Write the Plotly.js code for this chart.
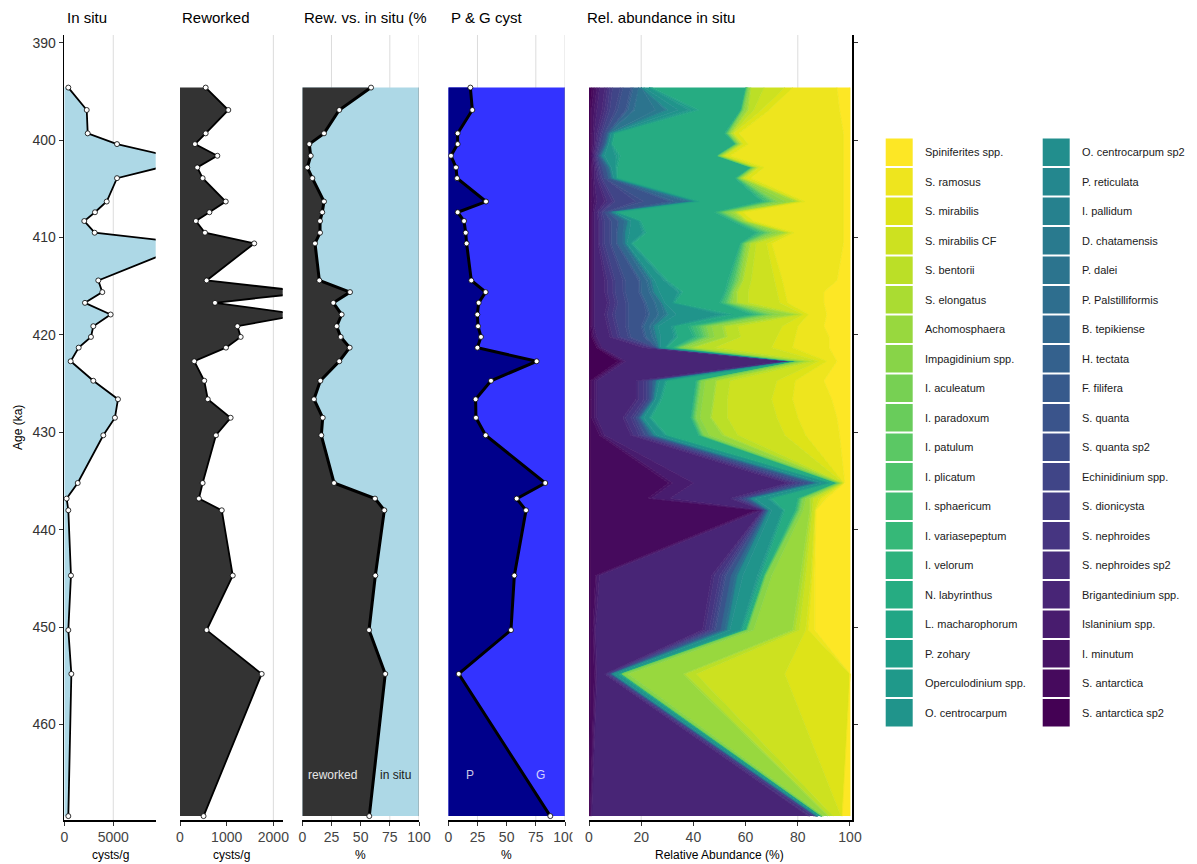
<!DOCTYPE html>
<html>
<head>
<meta charset="utf-8">
<script src="https://cdn.plot.ly/plotly-3.0.1.min.js"></script>
<style>
  html, body { margin: 0; padding: 0; background: #fff; }
  #chart { width: 1197px; height: 864px; }
</style>
</head>
<body>
<div id="chart"></div>
<script>
// ---- Sample ages (ka) ----
const age = [394.6, 396.9, 399.3, 400.4, 401.6, 402.8, 403.9, 406.3, 407.4, 408.3, 409.5, 410.6, 414.4, 415.6, 416.7, 417.9, 419.1, 420.2, 421.3, 422.7, 424.7, 426.6, 428.5, 430.3, 435.2, 436.8, 438.0, 444.7, 450.3, 454.8, 469.4];

// ---- Cyst concentrations (cysts/g) ----
const inSitu = [410, 2290, 2390, 5380, 10500, 9800, 5380, 4330, 3130, 2040, 3100, 12900, 3470, 3880, 2110, 4730, 2960, 2720, 1470, 650, 2960, 5480, 5170, 3980, 1370, 240, 410, 680, 410, 720, 410];
const reworked = [550, 1035, 550, 320, 800, 370, 485, 980, 630, 340, 535, 1590, 570, 2800, 750, 2600, 1230, 1300, 985, 305, 520, 595, 1085, 770, 485, 405, 895, 1130, 570, 1750, 505];

// ---- Reworked share of all cysts (%) ----
const reworkedPct = [58.9, 31.7, 18.6, 6.0, 7.2, 4.3, 8.6, 18.6, 17.1, 15.2, 15.2, 10.9, 14.6, 40.9, 26.6, 33.7, 29.5, 32.9, 40.6, 31.7, 15.5, 10.0, 17.5, 16.3, 27.2, 62.3, 70.3, 62.6, 57.2, 71.1, 57.4];

// ---- Protoperidinioid (P) share of P + G cysts (%) ----
const pPct = [18.9, 20.6, 8.0, 8.0, 2.3, 6.6, 7.5, 32.3, 8.0, 13.5, 14.9, 15.7, 19.7, 32.0, 26.0, 24.9, 25.5, 28.0, 24.9, 75.7, 36.6, 23.4, 23.7, 32.0, 83.1, 58.6, 66.6, 56.6, 53.7, 8.9, 87.4];

// ---- In situ taxa, relative abundance (%) ----
const spiniferitesSpp   = [5, 4, 2.5, 2.5, 2.5, 2.5, 2.5, 2.5, 2.5, 2.5, 2.5, 2.5, 5, 10, 10, 9, 10, 8, 8, 5, 10, 7, 5, 4, 2, 9, 13, 13.5, 13.5, 0, 3];
const sRamosus          = [17, 27, 40, 36.5, 43.5, 30.5, 35.5, 15, 38.5, 34.5, 19, 27.5, 21, 15, 14, 7, 10, 13, 14, 4, 11, 15, 15, 13, 0.3, 2, 0.3, 1, 2.5, 0, 0];
const sMirabilis        = [3, 3, 2, 2, 2, 2, 2, 1.5, 2, 2, 1.5, 2, 3, 3, 3, 2, 6, 7, 8, 3, 7, 8, 8, 8, 0.2, 1, 0.2, 0.5, 1, 25, 0.5];
const sMirabilisCF      = [8, 3, 0.5, 0.5, 0.5, 0.5, 1, 0.5, 0.5, 0.5, 0.5, 4, 9, 11, 12, 1, 17, 14, 22, 2, 18, 17, 19, 18, 0.3, 2, 1, 2, 2.5, 34, 3];
const sBentorii         = [5, 2, 0.5, 0.5, 0.5, 0.5, 0.5, 0.5, 0.5, 0.5, 0.5, 2, 3, 4, 4, 1, 5, 5, 8, 2, 5, 5, 6, 5, 0.2, 1, 0.5, 1, 1.5, 4, 1.5];
const sElongatus        = [0.2, 0.5, 0.2, 0.2, 0.2, 0.2, 0.2, 1.5, 1, 0.5, 1.5, 0.5, 0.5, 0.5, 0.5, 2, 1, 1, 1, 0.5, 0.5, 0.5, 0.5, 1, 0.2, 0.5, 0.5, 1, 1, 1, 0.5];
const achomosphaera     = [0.5, 1, 0.5, 0.5, 0.5, 0.5, 0.5, 3.5, 1.5, 1, 2.5, 1, 1, 1, 1.5, 5, 4, 4, 2.5, 1.5, 4, 4, 4, 5, 0.5, 1.5, 2.5, 11, 15, 21, 1.5];
const impagidiniumSpp   = [0.3, 0.5, 0.3, 0.3, 0.3, 0.3, 0.3, 3, 1.5, 0.5, 2, 0.5, 0.5, 0.5, 1, 3, 2, 2, 1.5, 1, 1.5, 1.5, 1.5, 2, 0.3, 1, 1, 2, 2, 2, 0.5];
const iAculeatum        = [0.3, 0.3, 0.3, 0.3, 0.3, 0.3, 0.3, 1, 0.6, 0.4, 1, 0.4, 0.6, 0.4, 0.6, 1.3, 1.1, 1, 0.4, 0.3, 0.4, 0.4, 0.4, 0.4, 0.3, 0.4, 0.4, 0.3, 0.3, 0.3, 0.2];
const iParadoxum        = [0.2, 0.2, 0.2, 0.2, 0.2, 0.2, 0.2, 0.8, 0.5, 0.4, 0.8, 0.4, 0.5, 0.4, 0.5, 1, 0.9, 0.8, 0.4, 0, 0.4, 0.4, 0.4, 0.4, 0.2, 0.4, 0.4, 0.2, 0.2, 0, 0];
const iPatulum          = [0, 0, 0, 0, 0, 0, 0, 0.6, 0.4, 0.3, 0.6, 0, 0.4, 0.3, 0.4, 0.8, 0.7, 0.6, 0.3, 0, 0, 0, 0, 0, 0, 0, 0, 0, 0, 0, 0];
const iPlicatum         = [0, 0, 0.3, 0, 0, 0, 0.3, 1, 0.7, 0.5, 1, 0.4, 0.7, 0.5, 0.7, 1.4, 1.2, 1, 0.5, 0, 0.4, 0.4, 0.4, 0.4, 0, 0.4, 0.4, 0, 0, 0, 0];
const iSphaericum       = [0.3, 0.3, 0.4, 0.3, 0.3, 0.3, 0.4, 1.2, 0.8, 0.6, 1.2, 0.5, 0.8, 0.6, 0.8, 1.6, 1.4, 1.2, 0.6, 0.2, 0.5, 0.5, 0.5, 0.5, 0.3, 0.5, 0.5, 0.3, 0.3, 0.2, 0.1];
const iVariasepeptum    = [0, 0, 0, 0, 0, 0, 0, 0.6, 0.4, 0.3, 0.6, 0, 0.4, 0.3, 0.4, 0.8, 0.7, 0.6, 0.3, 0, 0, 0, 0, 0, 0, 0, 0, 0, 0, 0, 0];
const iVelorum          = [0.2, 0.2, 0.3, 0.2, 0.2, 0.2, 0.3, 0.8, 0.6, 0.5, 0.8, 0.3, 0.6, 0.5, 0.6, 1.1, 1, 0.8, 0.5, 0, 0.3, 0.3, 0.3, 0.3, 0.2, 0.3, 0.3, 0.2, 0.2, 0, 0];
const nLabyrinthus      = [36, 16, 42, 47, 37, 51, 45, 24, 37, 35, 42, 41, 23, 16, 17, 7, 5, 6, 2, 0.5, 11, 12, 15, 12, 2, 10, 4, 1, 1, 0.5, 0.2];
const lMacharophorum    = [0.5, 1, 0.5, 0.5, 0.5, 0.5, 0.5, 0.5, 0.5, 0.5, 0.5, 0.5, 0.5, 0.5, 0.5, 2, 0.5, 0.5, 0.5, 0.2, 0.5, 0.5, 0.5, 0.5, 0.5, 0.5, 0.5, 0.5, 0.5, 0.5, 0.2];
const pZohary           = [0.5, 2, 0, 0, 1, 0.5, 0, 0, 0, 0.5, 0.5, 0.5, 0.5, 1, 0.5, 2, 0.5, 0.5, 0.5, 0.2, 0.5, 0.5, 0.5, 0.5, 0.5, 0.5, 0.5, 0.5, 0.5, 0.5, 0.2];
const operculodiniumSpp = [0, 1, 0, 0, 0.5, 0, 0, 0, 0, 0, 0.5, 0, 0.5, 0.5, 0, 1, 0.5, 0.5, 0, 0, 0, 0, 0, 0, 0, 0.5, 0, 0.5, 0, 0, 0];
const oCentrocarpum     = [2, 4, 1, 1, 4, 1.5, 1, 1, 1, 3, 5, 1.5, 3.5, 7, 3, 17, 5, 5, 1.5, 0.4, 2, 1.5, 2, 3, 3, 5, 4, 5.5, 4, 1.5, 0.8];
const oCentrocarpumSp2  = [1, 4, 0.5, 0.5, 1, 0.5, 0.5, 0.5, 0.5, 1, 1.5, 0.5, 1, 2, 1, 3, 1.5, 1.5, 0.5, 0.2, 1, 0.5, 1, 1, 1, 1.5, 1, 2, 1, 0.5, 0.3];
const pReticulata       = [0, 0.3, 0, 0, 0, 0, 0, 0.3, 0, 0, 0, 0, 0.3, 0, 0, 0.3, 0, 0, 0, 0, 0, 0, 0, 0, 0, 0, 0, 0, 0, 0, 0];
const iPallidum         = [0, 0.5, 0, 0, 0, 0, 0, 0.3, 0, 0, 0, 0, 0, 0, 0, 0.3, 0, 0, 0, 0, 0, 0, 0, 0, 0, 0, 0, 0, 0, 0, 0];
const dChatamensis      = [0, 4, 0, 0, 0, 0, 0, 0.5, 0, 0, 0, 0, 0.5, 0.5, 0.5, 1, 0.5, 0.5, 0, 0, 0, 0, 0, 0, 0, 0, 0, 0, 0, 0, 0];
const pDalei            = [1, 8, 0.5, 0.5, 0.5, 0.5, 0.5, 2, 0.5, 1.5, 1, 1, 1, 1, 2, 2, 1, 1, 0.5, 0.2, 0.5, 0.5, 0.5, 1, 1, 0.5, 0.5, 1, 1, 0, 0.2];
const pPalstilliformis  = [0, 0.5, 0, 0, 0, 0, 0, 0.5, 0, 0, 0, 0, 0.5, 0.5, 0.5, 0.5, 0.5, 0.5, 0, 0, 0, 0, 0, 0, 0, 0, 0, 0, 0, 0, 0];
const bTepikiense       = [2, 2, 0.5, 0.5, 0.5, 1, 1, 4, 1, 2, 2, 2, 2, 3, 3, 3, 2, 2, 0.5, 0.2, 1, 0.5, 0.5, 1, 1.5, 1, 0.5, 1.5, 1.5, 0.5, 0.2];
const hTectata          = [0.5, 0.5, 0, 0, 0, 0, 0, 1, 0, 0, 0, 0, 0.5, 0.5, 0.5, 0.5, 0.5, 0.5, 0, 0, 0, 0, 0, 0, 0, 0, 0, 0, 0, 0, 0];
const fFilifera         = [0.5, 0.5, 0, 0, 0, 0, 0, 1, 0, 0.5, 0.5, 0.5, 0.5, 0.5, 0.5, 1, 0.5, 0.5, 0, 0, 0, 0, 0, 0, 0.5, 0, 0, 0, 0, 0, 0];
const sQuanta           = [3, 3, 1, 1, 0.5, 1.5, 1.5, 10, 1.5, 2.5, 2, 2, 5, 5, 6, 7, 5, 5, 0.5, 0.3, 1.5, 1, 1, 1.5, 2.5, 1.5, 0.5, 2, 2, 0.5, 0.3];
const sQuantaSp2        = [1, 1, 0, 0, 0, 0, 0, 3, 0, 0.5, 0.5, 0.5, 1, 1, 1, 1, 1, 1, 0, 0, 0, 0, 0, 0.5, 0.5, 0, 0, 0.5, 0.5, 0, 0];
const echinidiniumSpp   = [3, 2, 1, 1, 0.5, 1, 1, 8, 1, 2, 2, 2, 3, 3, 3, 4, 3, 3, 0.5, 0.3, 1, 1, 1, 1, 2, 1, 0.5, 1, 1, 0.5, 0.3];
const sDionicysta       = [1, 1, 0.5, 0.5, 0.3, 0.5, 0.5, 1, 0.5, 1, 1, 1, 1, 1, 1, 1, 1, 1, 1, 1, 1, 1, 1, 1, 1, 1, 0.2, 1, 1, 0.5, 0.5];
const sNephroides       = [1, 1, 1, 0.5, 0.4, 0.5, 1, 2, 1, 1, 1, 1, 2, 2, 2, 2, 2, 2, 2, 2, 2, 2, 2, 2, 2, 2, 0.2, 2, 1.5, 0.5, 1.5];
const sNephroidesSp2    = [1, 1, 0.5, 0.5, 0.3, 0.5, 0.5, 1, 0.5, 0.5, 0.5, 0.5, 1, 1, 1, 1, 1, 1, 1, 1, 1, 1, 1, 1, 1, 1, 0.2, 1, 1, 0.5, 0.5];
const brigantediniumSpp = [2, 2, 1, 0.5, 0.5, 0.5, 1, 3, 1, 1.5, 1.5, 1.5, 4, 4, 5, 4, 5, 5, 16, 60, 15, 15, 10, 10, 36, 23, 0.4, 43, 41, 3, 83];
const islaniniumSpp     = [1, 1, 0.5, 0.5, 0.4, 0.5, 0.5, 1, 0.5, 0.5, 0.5, 0.5, 0.5, 0.5, 0.5, 0.5, 0.5, 1, 1, 1, 1, 1, 1, 1, 8, 7, 1, 1, 0.5, 0.5, 0.3];
const iMinutum          = [1, 1, 0.5, 0.5, 0.4, 0.5, 0.5, 1, 0.5, 0.5, 0.5, 0.5, 0.5, 0.5, 0.5, 0.5, 0.5, 0.5, 0.5, 0.5, 1, 1, 1, 1, 1.5, 1.5, 1, 0.5, 0.5, 0.5, 0.2];
const sAntarctica       = [1, 0.5, 0.5, 0.5, 0.4, 0.5, 0.5, 0.5, 0.5, 0.5, 0.5, 0.5, 0.5, 0.5, 0.5, 0.5, 0.5, 0.5, 0.5, 1.5, 0.5, 0.5, 0.5, 3.5, 30, 22, 63.5, 2, 1, 1.5, 0.3];
const sAntarcticaSp2    = [1, 0.5, 0.5, 0.5, 0.3, 0.5, 0.5, 0.5, 0.5, 0.5, 0.5, 0.5, 0.5, 0.5, 0.5, 0.5, 0.5, 1, 3, 11, 0.5, 0.5, 0.5, 0.5, 0.5, 0.5, 0.5, 0.5, 0.5, 0.5, 0.2];

// Legend order (first entry sits at the right end of the stack)
const taxa = [
  ['Spiniferites spp.', spiniferitesSpp], ['S. ramosus', sRamosus], ['S. mirabilis', sMirabilis],
  ['S. mirabilis CF', sMirabilisCF], ['S. bentorii', sBentorii], ['S. elongatus', sElongatus],
  ['Achomosphaera', achomosphaera], ['Impagidinium spp.', impagidiniumSpp], ['I. aculeatum', iAculeatum],
  ['I. paradoxum', iParadoxum], ['I. patulum', iPatulum], ['I. plicatum', iPlicatum],
  ['I. sphaericum', iSphaericum], ['I. variasepeptum', iVariasepeptum], ['I. velorum', iVelorum],
  ['N. labyrinthus', nLabyrinthus], ['L. macharophorum', lMacharophorum], ['P. zohary', pZohary],
  ['Operculodinium spp.', operculodiniumSpp], ['O. centrocarpum', oCentrocarpum],
  ['O. centrocarpum sp2', oCentrocarpumSp2], ['P. reticulata', pReticulata], ['I. pallidum', iPallidum],
  ['D. chatamensis', dChatamensis], ['P. dalei', pDalei], ['P. Palstilliformis', pPalstilliformis],
  ['B. tepikiense', bTepikiense], ['H. tectata', hTectata], ['F. filifera', fFilifera],
  ['S. quanta', sQuanta], ['S. quanta sp2', sQuantaSp2], ['Echinidinium spp.', echinidiniumSpp],
  ['S. dionicysta', sDionicysta], ['S. nephroides', sNephroides], ['S. nephroides sp2', sNephroidesSp2],
  ['Brigantedinium spp.', brigantediniumSpp], ['Islaninium spp.', islaniniumSpp], ['I. minutum', iMinutum],
  ['S. antarctica', sAntarctica], ['S. antarctica sp2', sAntarcticaSp2]
];

// ---- viridis palette ----
const VIRIDIS = ['#440154','#471365','#482475','#463480','#414487','#3B528B','#355F8D','#2F6C8E',
  '#2A788E','#25848E','#21918C','#1E9C89','#22A884','#2FB47C','#44BF70','#5EC962','#7AD151',
  '#9BD93C','#BDDF26','#DFE318','#FDE725'];
function hex2rgb(h) { return [1, 3, 5].map(i => parseInt(h.substr(i, 2), 16)); }
function viridis(t) {
  const n = VIRIDIS.length - 1, p = Math.max(0, Math.min(1, t)) * n;
  const i = Math.min(Math.floor(p), n - 1), f = p - i;
  const a = hex2rgb(VIRIDIS[i]), b = hex2rgb(VIRIDIS[i + 1]);
  return 'rgb(' + a.map((v, k) => Math.round(v + (b[k] - v) * f)).join(',') + ')';
}
const nTaxa = taxa.length;
const taxonColor = taxa.map((_, k) => viridis(1 - k / (nTaxa - 1)));

// ---- page geometry (pixels) ----
const W = 1197, H = 864;
const px = v => v / W;
const py = v => 1 - v / H;
const yDom = [py(820), py(35)];
const ageRange = [469.8, 389.2];
const FONT = 'Liberation Sans, Arial, Helvetica, sans-serif';

const pointMarker = { size: 5, color: '#ffffff', line: { color: '#000000', width: 0.8 } };
const traces = [];

// Panel 1: in situ concentration
traces.push({ x: inSitu, y: age, xaxis: 'x', yaxis: 'y', type: 'scatter', mode: 'lines+markers',
  fill: 'tozerox', fillcolor: '#ADD8E6', line: { color: '#000', width: 1.8 }, marker: pointMarker, hoverinfo: 'skip' });

// Panel 2: reworked concentration
traces.push({ x: reworked, y: age, xaxis: 'x2', yaxis: 'y2', type: 'scatter', mode: 'lines+markers',
  fill: 'tozerox', fillcolor: '#333333', line: { color: '#000', width: 1.8 }, marker: pointMarker, hoverinfo: 'skip' });

// Panel 3: reworked vs in situ share
traces.push({ x: age.map(() => 100), y: age, xaxis: 'x3', yaxis: 'y3', type: 'scatter', mode: 'lines',
  fill: 'tozerox', fillcolor: '#ADD8E6', line: { color: '#8C8C8C', width: 0.8 }, hoverinfo: 'skip' });
traces.push({ x: reworkedPct, y: age, xaxis: 'x3', yaxis: 'y3', type: 'scatter', mode: 'lines+markers',
  fill: 'tozerox', fillcolor: '#333333', line: { color: '#000', width: 3 }, marker: pointMarker, hoverinfo: 'skip' });

// Panel 4: P vs G cysts
traces.push({ x: age.map(() => 100), y: age, xaxis: 'x4', yaxis: 'y4', type: 'scatter', mode: 'lines',
  fill: 'tozerox', fillcolor: '#3333FF', line: { color: '#8C8C8C', width: 0.8 }, hoverinfo: 'skip' });
traces.push({ x: pPct, y: age, xaxis: 'x4', yaxis: 'y4', type: 'scatter', mode: 'lines+markers',
  fill: 'tozerox', fillcolor: '#00008B', line: { color: '#000', width: 3 }, marker: pointMarker, hoverinfo: 'skip' });

// Panel 5: stacked relative abundances, last legend entry at the left
for (let k = nTaxa - 1; k >= 0; k--) {
  const tr = { x: taxa[k][1], y: age, xaxis: 'x5', yaxis: 'y5', type: 'scatter', mode: 'lines',
    name: taxa[k][0], stackgroup: 'taxa', orientation: 'h', fillcolor: taxonColor[k],
    line: { width: 0.9, color: taxonColor[k] }, hoverinfo: 'skip' };
  if (k === nTaxa - 1) tr.groupnorm = 'percent';
  traces.push(tr);
}

// ---- axes ----
function xAxis(d0, d1, range, ticks, anchor) {
  return { domain: [px(d0), px(d1)], range: range, anchor: anchor, tickmode: 'array',
    tickvals: ticks, ticktext: ticks.map(String), showline: true, linecolor: '#000', linewidth: 1.6,
    ticks: 'outside', ticklen: 4, tickwidth: 1, tickcolor: '#333', showgrid: false, zeroline: false,
    tickfont: { size: 14, color: '#444444', family: FONT }, fixedrange: true };
}
const ageTicks = [390, 400, 410, 420, 430, 440, 450, 460];
function hiddenY(anchor) {
  return { domain: yDom, range: ageRange, anchor: anchor, showline: false, showticklabels: false,
    ticks: '', showgrid: false, zeroline: false, fixedrange: true };
}

const layout = {
  width: W, height: H, margin: { l: 0, r: 0, t: 0, b: 0, pad: 0 },
  paper_bgcolor: '#ffffff', plot_bgcolor: 'rgba(0,0,0,0)', showlegend: false,
  font: { family: FONT, color: '#000' },
  xaxis:  xAxis(64.3, 155.7, [0, 9330], [0, 5000], 'y'),
  xaxis2: xAxis(180, 282.7, [0, 2200], [0, 1000, 2000], 'y2'),
  xaxis3: xAxis(302.3, 419, [0, 100], [0, 25, 50, 75, 100], 'y3'),
  xaxis4: xAxis(448.3, 565, [0, 100], [0, 25, 50, 75, 100], 'y4'),
  xaxis5: xAxis(589, 852, [0, 100.77], [0, 20, 40, 60, 80, 100], 'y5'),
  yaxis: { domain: yDom, range: ageRange, anchor: 'x', tickmode: 'array', tickvals: ageTicks,
    ticktext: ageTicks.map(String), showline: true, linecolor: '#000', linewidth: 1.6,
    ticks: 'outside', ticklen: 4, tickwidth: 1, tickcolor: '#333', showgrid: false, zeroline: false,
    tickfont: { size: 14, color: '#333333', family: FONT }, fixedrange: true },
  yaxis2: hiddenY('x2'),
  yaxis3: hiddenY('x3'),
  yaxis4: hiddenY('x4'),
  yaxis5: { domain: yDom, range: ageRange, anchor: 'x5', side: 'right', tickmode: 'array',
    tickvals: ageTicks, showticklabels: false, showline: true, linecolor: '#000', linewidth: 1.6,
    ticks: 'outside', ticklen: 4, tickwidth: 1, tickcolor: '#333', showgrid: false, zeroline: false,
    fixedrange: true },
  shapes: [],
  annotations: []
};

// vertical guide lines behind the data
[['x', 5000, 'y'], ['x2', 2000, 'y2'], ['x3', 25, 'y3'], ['x3', 75, 'y3'], ['x3', 100, 'y3'],
 ['x4', 25, 'y4'], ['x4', 75, 'y4'], ['x4', 100, 'y4'], ['x5', 20, 'y5'], ['x5', 80, 'y5']]
  .forEach(([xr, v, yr]) => layout.shapes.push({ type: 'line', xref: xr, yref: yr, x0: v, x1: v,
    y0: ageRange[0], y1: ageRange[1], line: { color: '#DCDCDC', width: 1 }, layer: 'below' }));

// panel 5 covers the overflow of the neighbouring tick label
layout.shapes.push({ type: 'rect', xref: 'paper', yref: 'paper', x0: px(572.5), x1: px(584),
  y0: py(845), y1: py(823), fillcolor: '#ffffff', line: { width: 0 }, layer: 'above' });

// panel titles
[['In situ', 65], ['Reworked', 180], ['Rew. vs. in situ (%', 302], ['P & G cyst', 449],
 ['Rel. abundance in situ', 585]].forEach(([t, x]) => layout.annotations.push({
  text: t, xref: 'paper', yref: 'paper', x: px(x), y: py(17), xanchor: 'left', yanchor: 'middle',
  showarrow: false, font: { size: 15, color: '#000', family: FONT } }));

// axis titles
[['cysts/g', 110], ['cysts/g', 231.3], ['%', 360.6], ['%', 506.6], ['Relative Abundance (%)', 719]]
  .forEach(([t, x]) => layout.annotations.push({ text: t, xref: 'paper', yref: 'paper', x: px(x),
    y: py(855), xanchor: 'center', yanchor: 'middle', showarrow: false,
    font: { size: 12, color: '#000', family: FONT } }));
layout.annotations.push({ text: 'Age (ka)', xref: 'paper', yref: 'paper', x: px(18), y: py(428),
  textangle: -90, xanchor: 'center', yanchor: 'middle', showarrow: false,
  font: { size: 12, color: '#000', family: FONT } });

// in-panel labels
layout.annotations.push(
  { text: 'reworked', xref: 'x3', yref: 'y3', x: 26.3, y: 465.2, showarrow: false,
    font: { size: 12, color: '#E6E6E6', family: FONT } },
  { text: 'in situ', xref: 'x3', yref: 'y3', x: 79.5, y: 465.2, showarrow: false,
    font: { size: 12, color: '#1A1A1A', family: FONT } },
  { text: 'P', xref: 'x4', yref: 'y4', x: 18.6, y: 465.2, showarrow: false,
    font: { size: 12, color: 'rgba(255,255,255,0.8)', family: FONT } },
  { text: 'G', xref: 'x4', yref: 'y4', x: 79.4, y: 465.2, showarrow: false,
    font: { size: 12, color: 'rgba(255,255,255,0.8)', family: FONT } });

// two-column key for the taxa
const rows = 20, rowPitch = 29.5, keyTop = 138.5, keyH = 27.5, keyW = 27;
taxa.forEach(([label], k) => {
  const col = Math.floor(k / rows), row = k % rows;
  const kx = col === 0 ? 885.7 : 1042.7;
  const tx = col === 0 ? 922.5 : 1080;
  const top = keyTop + row * rowPitch;
  layout.shapes.push({ type: 'rect', xref: 'paper', yref: 'paper', x0: px(kx), x1: px(kx + keyW),
    y0: py(top + keyH), y1: py(top), fillcolor: taxonColor[k], line: { width: 0 }, layer: 'above' });
  layout.annotations.push({ text: label, xref: 'paper', yref: 'paper', x: px(tx), y: py(top + keyH / 2),
    xanchor: 'left', yanchor: 'middle', showarrow: false, font: { size: 11, color: '#1A1A1A', family: FONT } });
});

Plotly.newPlot('chart', traces, layout, { displayModeBar: false, staticPlot: true });
</script>
</body>
</html>
